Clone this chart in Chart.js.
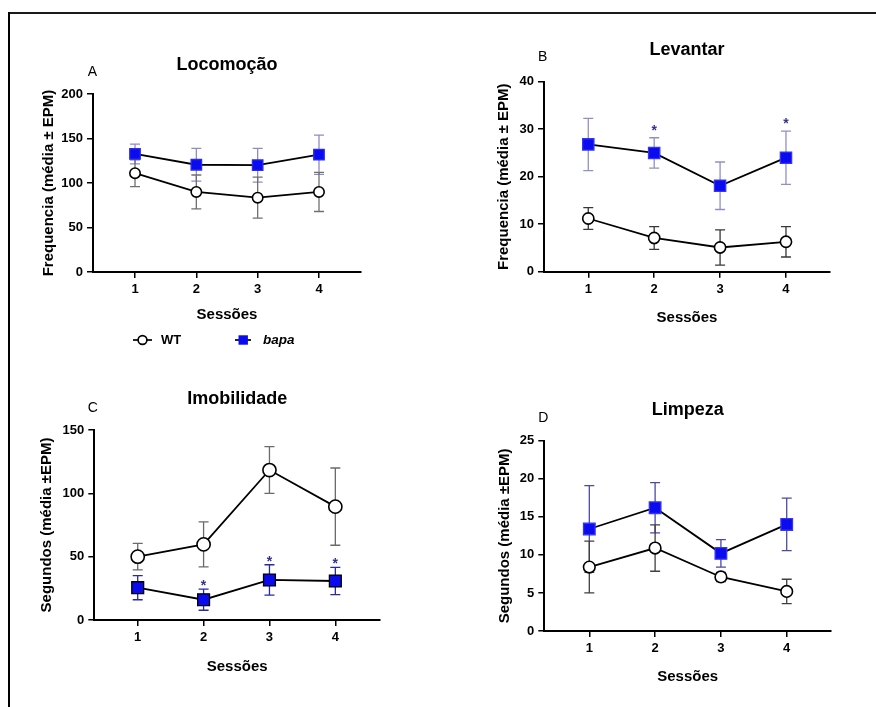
<!DOCTYPE html>
<html>
<head>
<meta charset="utf-8">
<script src="https://cdn.jsdelivr.net/npm/chart.js@4.4.0/dist/chart.umd.min.js"></script>
<style>
html,body{margin:0;padding:0;background:#fff;}
#page{position:relative;width:876px;height:707px;overflow:hidden;background:#fff;font-family:"Liberation Sans",Arial,Helvetica,sans-serif;}
#frameTop{position:absolute;left:8px;top:12px;width:868px;height:2px;background:#1a1a1a;}
#frameLeft{position:absolute;left:8px;top:12px;width:2px;height:695px;background:#000;}
canvas{position:absolute;}
.lg{position:absolute;top:332px;height:16px;line-height:16px;font-size:13px;font-weight:bold;color:#000;white-space:nowrap;}
.lgi{position:absolute;top:334px;}
</style>
</head>
<body>
<div id="page">
  <div id="frameTop"></div>
  <div id="frameLeft"></div>
  <canvas id="cA"></canvas>
  <canvas id="cB"></canvas>
  <canvas id="cC"></canvas>
  <canvas id="cD"></canvas>
  <svg class="lgi" style="left:132px" width="22" height="12" viewBox="0 0 22 12">
    <line x1="1" y1="6" x2="20" y2="6" stroke="#000" stroke-width="1.7"/>
    <circle cx="10.5" cy="6" r="4.4" fill="#fff" stroke="#000" stroke-width="1.6"/>
  </svg>
  <span class="lg" id="lgWT" style="left:161px"></span>
  <svg class="lgi" style="left:234px" width="18" height="12" viewBox="0 0 18 12">
    <line x1="1" y1="6" x2="17" y2="6" stroke="#000" stroke-width="1.7"/>
    <rect x="4.5" y="1.3" width="9.4" height="9.4" fill="#0b0bf0"/>
  </svg>
  <span class="lg" id="lgBapa" style="left:263px;font-style:italic;font-size:13.5px"></span>
</div>
<script>
// ---------------- data ----------------
const sessions = [1, 2, 3, 4];
const tickLabels = ['1', '2', '3', '4'];
const seriesNames = ['WT', 'bapa'];
const panelLetters = ['A', 'B', 'C', 'D'];
const panelTitles = ['Locomoção', 'Levantar', 'Imobilidade', 'Limpeza'];
const yTitles = ['Frequencia (média ± EPM)', 'Frequencia (média ± EPM)', 'Segundos (média ±EPM)', 'Segundos (média ±EPM)'];
const xTitle = 'Sessões';

const locoWT = [111, 90, 83.5, 90];
const locoWTsem = [15, 19, 23, 22];
const locoBapa = [132.6, 120.5, 120, 131.8];
const locoBapaSem = [11, 18.5, 19, 22];
const locoSig = [false, false, false, false];

const levWT = [11.2, 7.1, 5.1, 6.3];
const levWTsem = [2.3, 2.4, 3.7, 3.2];
const levBapa = [26.8, 25.0, 18.1, 24.0];
const levBapaSem = [5.5, 3.2, 5.0, 5.6];
const levSig = [false, true, false, true];

const imobWT = [50, 59.7, 118.4, 89.5];
const imobWTsem = [10.5, 17.7, 18.4, 30.5];
const imobBapa = [25.5, 16, 31.6, 30.8];
const imobBapaSem = [9.5, 8.3, 12, 10.8];
const imobSig = [false, true, true, true];

const limpWT = [8.4, 10.9, 7.1, 5.2];
const limpWTsem = [3.4, 3.05, 0.6, 1.6];
const limpBapa = [13.4, 16.2, 10.2, 14.0];
const limpBapaSem = [5.7, 3.3, 1.8, 3.45];
const limpSig = [false, false, false, false];

const yMaxes = [200, 40, 150, 25];
const ySteps = [50, 10, 50, 5];

// ---------------- layout / style (page pixel geometry) ----------------
const FONT = '"Liberation Sans", Arial, Helvetica, sans-serif';
const layouts = [
  {id:'cA', cl:0,   ct:14,  cw:438, ch:320, left:93,    right:361, top:94,    bottom:272,   titleY:65,    yTitleX:49,   xTitleY:315,   xmin:0.315, xmax:4.685, letterDx:-0.5, letterDy:-22,
   wtR:5.2, bapaR:7.4, bapaBorder:'#2a2af2', wtErr:'#707070', bapaErr:'#8d8dc4', sigOff:11},
  {id:'cB', cl:440, ct:14,  cw:436, ch:320, left:544,   right:830, top:81.7,  bottom:271.7, titleY:50,    yTitleX:504,  xTitleY:318,   xmin:0.328, xmax:4.668, letterDx:-1.3, letterDy:-24.7,
   wtR:5.6, bapaR:8, bapaBorder:'#3535f5', wtErr:'#383838', bapaErr:'#9090c8', sigOff:11},
  {id:'cC', cl:0,   ct:360, cw:438, ch:340, left:94.3,  right:380, top:430,   bottom:620,   titleY:399.3, yTitleX:46.7, xTitleY:666.7, xmin:0.341, xmax:4.678, letterDx:-1.6, letterDy:-21.7,
   wtR:6.6, bapaR:8.4, bapaBorder:'#000000', wtErr:'#6a6a6a', bapaErr:'#2a2a9c', sigOff:7},
  {id:'cD', cl:440, ct:360, cw:436, ch:340, left:544.3, right:831, top:440.7, bottom:631,   titleY:410,   yTitleX:505,  xTitleY:677.3, xmin:0.316, xmax:4.673, letterDx:-1,   letterDy:-22.4,
   wtR:5.8, bapaR:8.2, bapaBorder:'#3535f5', wtErr:'#404040', bapaErr:'#4a4aa8', sigOff:11}
];

const panelData = [
  {wt:locoWT, wtSem:locoWTsem, bapa:locoBapa, bapaSem:locoBapaSem, sig:locoSig},
  {wt:levWT,  wtSem:levWTsem,  bapa:levBapa,  bapaSem:levBapaSem,  sig:levSig},
  {wt:imobWT, wtSem:imobWTsem, bapa:imobBapa, bapaSem:imobBapaSem, sig:imobSig},
  {wt:limpWT, wtSem:limpWTsem, bapa:limpBapa, bapaSem:limpBapaSem, sig:limpSig}
];

document.getElementById('lgWT').textContent = seriesNames[0];
document.getElementById('lgBapa').textContent = seriesNames[1];

// ---------------- plugins ----------------
const errorBarPlugin = {
  id: 'errorBars',
  beforeDatasetsDraw(chart) {
    const ctx = chart.ctx;
    const ys = chart.scales.y;
    chart.data.datasets.forEach((ds, di) => {
      if (!ds.sem) return;
      const meta = chart.getDatasetMeta(di);
      ctx.save();
      ctx.strokeStyle = ds.errorColor;
      ctx.lineWidth = 1.3;
      meta.data.forEach((pt, i) => {
        const v = ds.data[i].y, s = ds.sem[i];
        const px = pt.x;
        const t = ys.getPixelForValue(v + s);
        const b = ys.getPixelForValue(v - s);
        const cap = 5;
        ctx.beginPath();
        ctx.moveTo(px, t); ctx.lineTo(px, b);
        ctx.moveTo(px - cap, t); ctx.lineTo(px + cap, t);
        ctx.moveTo(px - cap, b); ctx.lineTo(px + cap, b);
        ctx.stroke();
      });
      ctx.restore();
    });
  }
};

const sigPlugin = {
  id: 'sigMarks',
  afterDatasetsDraw(chart, args, opts) {
    const ctx = chart.ctx;
    const ys = chart.scales.y;
    chart.data.datasets.forEach((ds, di) => {
      if (!ds.sig) return;
      const meta = chart.getDatasetMeta(di);
      ctx.save();
      ctx.fillStyle = '#33338f';
      ctx.font = 'bold 14px ' + FONT;
      ctx.textAlign = 'center';
      ctx.textBaseline = 'alphabetic';
      meta.data.forEach((pt, i) => {
        if (!ds.sig[i]) return;
        const top = ys.getPixelForValue(ds.data[i].y + ds.sem[i]);
        const cy = top - opts.offset;
        ctx.fillText('*', pt.x, cy + 8);
      });
      ctx.restore();
    });
  }
};

const letterPlugin = {
  id: 'panelLetter',
  afterDraw(chart, args, opts) {
    const ctx = chart.ctx;
    const a = chart.chartArea;
    ctx.save();
    ctx.fillStyle = '#000';
    ctx.font = '14px ' + FONT;
    ctx.textAlign = 'center';
    ctx.textBaseline = 'middle';
    ctx.fillText(opts.text, a.left + opts.dx, a.top + opts.dy);
    ctx.restore();
  }
};

// ---------------- build charts ----------------
layouts.forEach((g, k) => {
  const d = panelData[k];
  const cv = document.getElementById(g.id);
  cv.width = g.cw; cv.height = g.ch;
  cv.style.left = g.cl + 'px'; cv.style.top = g.ct + 'px';
  cv.style.width = g.cw + 'px'; cv.style.height = g.ch + 'px';

  const yTitleLH = 15 * 1.2, xTitleLH = 15 * 1.2, titleLH = 18 * 1.2;
  const padL = g.yTitleX - yTitleLH / 2 - g.cl;
  const yW = g.left - g.cl - padL;
  const padT = g.titleY - titleLH / 2 - g.ct;
  const titlePB = g.top - g.ct - padT - titleLH;
  const padR = g.cl + g.cw - g.right;
  const xH = g.xTitleY + xTitleLH / 2 - g.bottom;
  const padB = g.ct + g.ch - (g.xTitleY + xTitleLH / 2);

  const axisCommon = {
    grid: {display: true, drawOnChartArea: false, drawTicks: true, tickLength: 6, color: '#000', lineWidth: 1.5},
    border: {display: true, color: '#000', width: 2},
  };

  new Chart(cv, {
    type: 'line',
    data: {
      datasets: [
        {
          label: seriesNames[1],
          data: sessions.map((s, i) => ({x: s, y: d.bapa[i]})),
          sem: d.bapaSem, errorColor: g.bapaErr, sig: d.sig,
          borderColor: '#000', borderWidth: 1.8, tension: 0,
          pointStyle: 'rect', pointRadius: g.bapaR, pointHoverRadius: g.bapaR,
          pointBackgroundColor: '#0b0bf0', pointBorderColor: g.bapaBorder, pointBorderWidth: 1.3
        },
        {
          label: seriesNames[0],
          data: sessions.map((s, i) => ({x: s, y: d.wt[i]})),
          sem: d.wtSem, errorColor: g.wtErr,
          borderColor: '#000', borderWidth: 1.8, tension: 0,
          pointStyle: 'circle', pointRadius: g.wtR, pointHoverRadius: g.wtR,
          pointBackgroundColor: '#fff', pointBorderColor: '#000', pointBorderWidth: 1.6
        }
      ]
    },
    options: {
      responsive: false,
      animation: false,
      devicePixelRatio: 1,
      events: [],
      layout: {padding: {left: padL, right: padR, top: padT, bottom: padB}},
      plugins: {
        legend: {display: false},
        tooltip: {enabled: false},
        title: {
          display: true, text: panelTitles[k], fullSize: false, color: '#000',
          font: {family: FONT, size: 18, weight: 'bold', lineHeight: 1.2},
          padding: {top: 0, bottom: titlePB}
        },
        sigMarks: {offset: g.sigOff},
        panelLetter: {text: panelLetters[k], dx: g.letterDx, dy: g.letterDy}
      },
      scales: {
        x: Object.assign({}, axisCommon, {
          type: 'linear', position: 'bottom', min: g.xmin, max: g.xmax,
          afterBuildTicks: (s) => { s.ticks = sessions.map(v => ({value: v})); },
          afterFit: (s) => { s.height = xH; },
          ticks: {
            color: '#000', padding: 4, maxRotation: 0, autoSkip: false,
            font: {family: FONT, size: 13, weight: 'bold'},
            callback: (v) => tickLabels[sessions.indexOf(v)]
          },
          title: {display: true, text: xTitle, color: '#000', padding: {top: 0, bottom: 0},
                  font: {family: FONT, size: 15, weight: 'bold', lineHeight: 1.2}}
        }),
        y: Object.assign({}, axisCommon, {
          type: 'linear', position: 'left', min: 0, max: yMaxes[k],
          afterFit: (s) => { s.width = yW; },
          ticks: {
            color: '#000', padding: 4, stepSize: ySteps[k],
            font: {family: FONT, size: 13, weight: 'bold'}
          },
          title: {display: true, text: yTitles[k], color: '#000', padding: {top: 0, bottom: 0},
                  font: {family: FONT, size: 15, weight: 'bold', lineHeight: 1.2}}
        })
      }
    },
    plugins: [errorBarPlugin, sigPlugin, letterPlugin]
  });
});
</script>
</body>
</html>
